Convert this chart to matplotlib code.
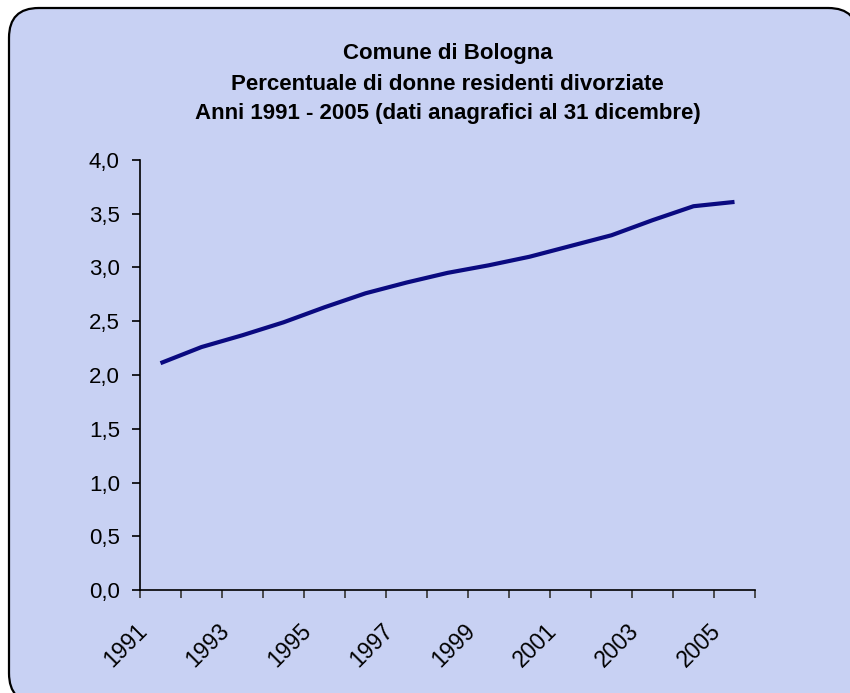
import matplotlib
matplotlib.use("Agg")
import matplotlib.pyplot as plt
from matplotlib.patches import FancyBboxPatch
from matplotlib.ticker import FuncFormatter, FixedLocator

plt.rcParams.update({
    "font.family": ["Liberation Sans", "DejaVu Sans"],
})

BG = "#c8d1f3"     # pastel periwinkle background
LINE = "#0a0a80"   # navy line
INK = "#000000"

# --- data ---------------------------------------------------------------
years = [1991, 1992, 1993, 1994, 1995, 1996, 1997, 1998, 1999, 2000,
         2001, 2002, 2003, 2004, 2005]
pct = [2.11, 2.26, 2.37, 2.49, 2.63, 2.76, 2.86, 2.95, 3.02, 3.10,
       3.20, 3.30, 3.44, 3.57, 3.61]
labelled_years = [1991, 1993, 1995, 1997, 1999, 2001, 2003, 2005]
title_lines = ["Comune di Bologna",
               "Percentuale di donne residenti divorziate",
               "Anni 1991 - 2005 (dati anagrafici al 31 dicembre)"]

W, H = 850, 693
fig = plt.figure(figsize=(W / 100, H / 100), dpi=100)
fig.patch.set_facecolor("white")

# rounded chart frame (runs off the bottom/right edge like the original)
frame = FancyBboxPatch((9 / W, (H - 703) / H), (858 - 9) / W, (703 - 8) / H,
                       boxstyle="round,pad=0,rounding_size=0.035",
                       transform=fig.transFigure, facecolor=BG,
                       edgecolor=INK, linewidth=1.6, zorder=-5,
                       mutation_aspect=W / H)
fig.patches.append(frame)

# plot area in pixels: x 140..755, y 160..590 (top-down)
ax = fig.add_axes([140 / W, (H - 590) / H, 615 / W, 430 / H])
ax.set_facecolor("none")
ax.set_zorder(2)

x = list(range(len(years)))
ax.plot(x, pct, color=LINE, lw=3.0, solid_joinstyle="round",
        solid_capstyle="butt", zorder=3)

ax.set_xlim(-0.5, len(years) - 0.5)
ax.set_ylim(0, 4.0)
ax.set_yticks([0, 0.5, 1.0, 1.5, 2.0, 2.5, 3.0, 3.5, 4.0])
ax.yaxis.set_major_formatter(FuncFormatter(
    lambda v, _: f"{v:.1f}".replace(".", ",")))

# category boundary ticks (major) and year labels (minor, no tick mark);
# Excel puts the end of each rotated label a bit left of the category centre
ax.xaxis.set_major_locator(FixedLocator([i - 0.5 for i in range(len(years) + 1)]))
ax.set_xticklabels([])
pos = [years.index(y) - 0.42 for y in labelled_years]
ax.xaxis.set_minor_locator(FixedLocator(pos))
ax.set_xticklabels([str(y) for y in labelled_years], minor=True,
                   rotation=45, ha="right", va="center",
                   rotation_mode="anchor")
ax.tick_params(axis="x", which="minor", length=0, pad=27, labelsize=16.5)
ax.tick_params(axis="x", which="major", length=5.5, width=1.3,
               color="#404040", direction="out")
ax.tick_params(axis="y", length=5.5, width=1.2, direction="out",
               labelsize=16, pad=9)

for side in ("top", "right"):
    ax.spines[side].set_visible(False)
for side in ("left", "bottom"):
    ax.spines[side].set_linewidth(1.2)
    ax.spines[side].set_color(INK)

# three-line bold title
for i, t in enumerate(title_lines):
    fig.text(447.5 / W, (H - 54 - 30 * i) / H, t, ha="center", va="center",
             fontsize=16, fontweight="bold", color=INK)

fig.savefig("out.png", dpi=100)
